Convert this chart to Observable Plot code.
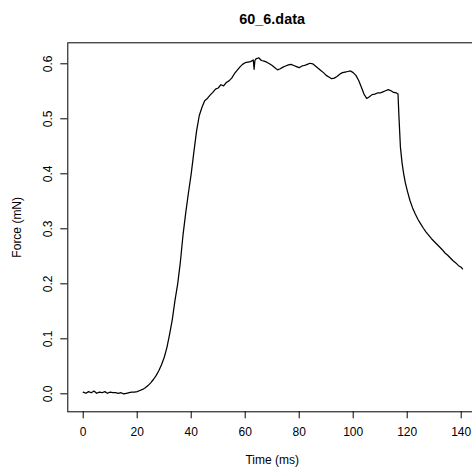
<!DOCTYPE html>
<html><head><meta charset="utf-8">
<script src="https://cdn.jsdelivr.net/npm/d3@7"></script>
<script src="https://cdn.jsdelivr.net/npm/@observablehq/plot@0.6"></script>
<style>body{margin:0;background:#fff;} svg{display:block}</style>
</head><body><div id="chart"></div>
<script>
const title = "60_6.data";
const xLabel = "Time (ms)";
const yLabel = "Force (mN)";
const xTicks = [0, 20, 40, 60, 80, 100, 120, 140];
const yTicks = [0, 0.1, 0.2, 0.3, 0.4, 0.5, 0.6];

const timeMs = [
  0, 1, 2, 3, 4, 5, 6, 7, 8, 9, 10, 11, 12, 13, 14, 15, 16, 17, 18, 19, 20, 21, 22,
  23, 24, 25, 26, 27, 28, 29, 30, 31, 32, 33, 34, 35, 36, 37, 38, 39, 40, 41, 42, 43, 44, 45,
  46, 47, 48, 49, 50, 51, 52, 53, 54, 55, 56, 57, 58, 59, 60, 61, 62, 63, 63.3, 63.6, 64, 65,
  66, 67, 68, 69, 70, 71, 72, 73, 74, 75, 76, 77, 78, 79, 80, 81, 82, 83, 84, 85, 86, 87, 88,
  89, 90, 91, 92, 93, 94, 95, 96, 97, 98, 99, 100, 101, 102, 103, 104, 105, 106, 107, 108, 109,
  110, 111, 112, 113, 114, 115, 116, 116.6, 116.9, 117.5, 118.1, 118.7, 119.3, 120, 121, 122,
  123, 124, 125, 126, 127, 128, 129, 130, 131, 132, 133, 134, 135, 136, 137, 138, 139, 140, 140.5
];
const forceMN = [
  0.003, 0.001, 0.004, 0.002, 0.005, 0.001, 0.003, 0.002, 0.004, 0.001, 0.003, 0.002, 0.002, 0.001, 0.002, 0.000, 0.001, 0.002, 0.003, 0.003, 0.004, 0.006, 0.008,
  0.011, 0.015, 0.020, 0.026, 0.033, 0.042, 0.053, 0.066, 0.084, 0.108, 0.135, 0.170, 0.200, 0.240, 0.290, 0.330, 0.366, 0.400, 0.440, 0.478, 0.506, 0.521, 0.533,
  0.537, 0.543, 0.548, 0.554, 0.556, 0.562, 0.560, 0.566, 0.569, 0.574, 0.582, 0.588, 0.594, 0.599, 0.602, 0.603, 0.604, 0.607, 0.590, 0.606, 0.609, 0.611,
  0.606, 0.605, 0.603, 0.600, 0.597, 0.593, 0.589, 0.591, 0.594, 0.596, 0.598, 0.599, 0.597, 0.595, 0.593, 0.596, 0.597, 0.599, 0.601, 0.600, 0.596, 0.592, 0.588,
  0.584, 0.579, 0.576, 0.573, 0.574, 0.577, 0.581, 0.584, 0.585, 0.586, 0.587, 0.584, 0.579, 0.570, 0.558, 0.545, 0.537, 0.540, 0.544, 0.545, 0.547,
  0.547, 0.549, 0.551, 0.553, 0.551, 0.548, 0.547, 0.545, 0.509, 0.448, 0.420, 0.400, 0.384, 0.370, 0.352, 0.338,
  0.327, 0.317, 0.309, 0.301, 0.294, 0.288, 0.282, 0.277, 0.272, 0.267, 0.262, 0.256, 0.252, 0.247, 0.242, 0.238, 0.233, 0.230, 0.227
];

const data = timeMs.map((t, i) => ({t, f: forceMN[i]}));

const chart = Plot.plot({
  width: 472, height: 474,
  marginLeft: 67.3, marginRight: -4, marginTop: 42.3, marginBottom: 62.7,
  style: {fontFamily: "'Liberation Sans', Arial, Helvetica, sans-serif", fontSize: "12px", color: "#000", background: "#fff", overflow: "hidden"},
  x: {domain: [-5.7, 145.67]},
  y: {domain: [-0.0327, 0.6382]},
  marks: [
    Plot.frame({stroke: "#000", strokeWidth: 1}),
    Plot.axisX({ticks: xTicks, tickSize: 7, tickPadding: 9, tickFormat: d => String(d),
      label: xLabel, labelAnchor: "center", labelArrow: "none", labelOffset: 52, fontSize: 12}),
    Plot.axisY({ticks: yTicks, tickSize: 7, tickPadding: 9, tickRotate: -90, tickFormat: d3.format(".1f"),
      label: yLabel, labelAnchor: "center", labelArrow: "none", labelOffset: 55, fontSize: 12}),
    Plot.line(data, {x: "t", y: "f", stroke: "#000", strokeWidth: 1.25}),
    Plot.text([title], {frameAnchor: "top", dy: -29, fontWeight: "bold", fontSize: 14.4, fill: "#000"})
  ]
});
document.getElementById("chart").appendChild(chart);
</script>
</body></html>
